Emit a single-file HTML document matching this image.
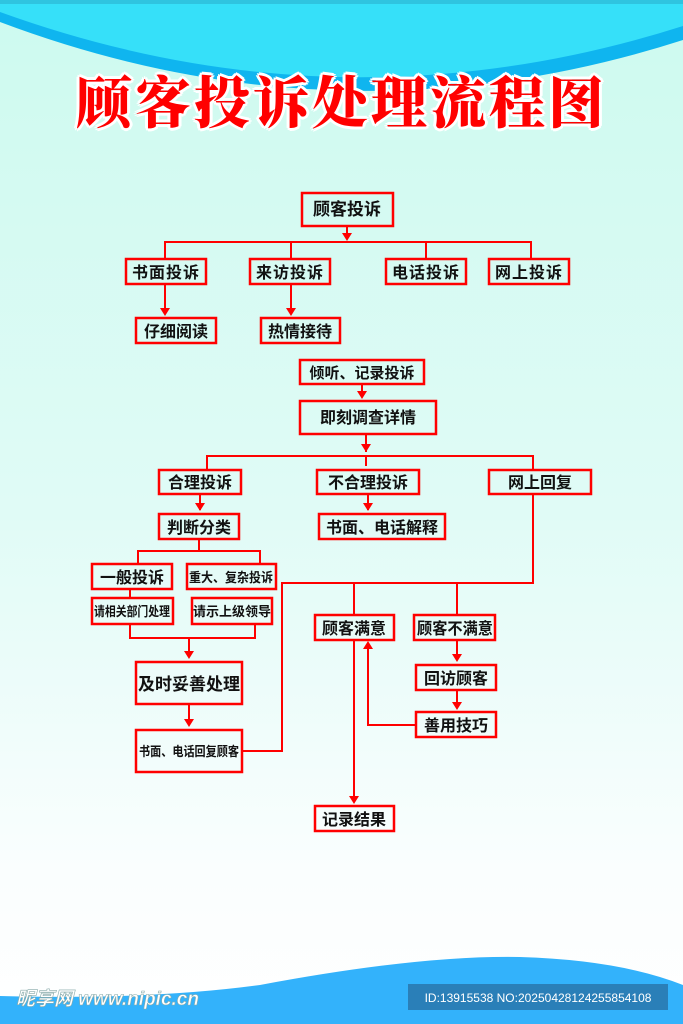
<!DOCTYPE html>
<html><head><meta charset="utf-8"><style>
html,body{margin:0;padding:0}
body{width:683px;height:1024px;position:relative;overflow:hidden;background:linear-gradient(#cdfaef 0%,#e0fbf6 50%,#fafefe 85%,#fff 100%);font-family:"Liberation Sans","Noto Sans CJK SC",sans-serif}
svg{position:absolute;left:0;top:0}
.t{position:absolute;left:0;width:683px;top:60px;text-align:center;font-family:"Noto Serif CJK SC",serif;font-weight:900;font-size:56px;color:#f00;letter-spacing:3px;text-shadow:3px 0 #fff,-3px 0 #fff,0 3px #fff,0 -3px #fff,2px 2px #fff,-2px -2px #fff,2px -2px #fff,-2px 2px #fff}
</style></head><body>
<svg width="683" height="1024" viewBox="0 0 683 1024">
<path d="M0 0 H683 V40 Q340 150 0 22 Z" fill="#0fb5ef"/>
<path d="M0 0 H683 V26 Q340 135 0 12 Z" fill="#36e0f9"/>
<path d="M0 0 H683 V4 H0Z" fill="#2fc4e0"/>
<path d="M0 996 Q150 1000 260 985 Q420 955 520 957 Q620 960 683 985 V1024 H0Z" fill="#33b2fb"/>
<rect x="408" y="984" width="260" height="26" fill="#2a7fb8"/>
<text x="538" y="1002" font-size="12" fill="#fff" text-anchor="middle" font-family="Liberation Sans,sans-serif">ID:13915538 NO:20250428124255854108</text>
<text x="16" y="1005" font-size="19" font-weight="bold" font-style="italic" fill="#fff" stroke="#8aa" stroke-width="0.6" font-family="Liberation Sans,'Noto Sans CJK SC',sans-serif">昵享网 www.nipic.cn</text>
<g stroke="#f00" stroke-width="2" fill="none">
<path d="M347 226V238M165 259V242H531V259M291 242V259M426 242V259"/>
<path d="M165 284V314M291 284V314"/>
<path d="M362 384V397M366 434V452M207 470V456H533V470M366 456V466"/>
<path d="M200 494V510M368 494V510"/>
<path d="M199 539V551M138 564V551H260V564M130 589V598"/>
<path d="M130 624V638H255V624M189 638V657M189 704V725"/>
<path d="M242 751H282V583H533V494M354 583V615M457 583V615"/>
<path d="M457 640V660M457 690V708M416 725H368V645M354 640V800"/>
</g>
<g fill="#f00">
<path d="M342 233h10l-5 8z"/><path d="M160 308h10l-5 8z"/><path d="M286 308h10l-5 8z"/>
<path d="M357 391h10l-5 8z"/><path d="M361 444h10l-5 8z"/>
<path d="M195 503h10l-5 8z"/><path d="M363 503h10l-5 8z"/>
<path d="M184 651h10l-5 8z"/><path d="M184 719h10l-5 8z"/>
<path d="M452 654h10l-5 8z"/><path d="M452 702h10l-5 8z"/>
<path d="M363 649h10l-5 -8z"/><path d="M349 796h10l-5 8z"/>
</g>
<g stroke="#f00" stroke-width="2.5" fill="none">
<rect x="302" y="193" width="91" height="33"/>
<rect x="126" y="259" width="80" height="25"/><rect x="250" y="259" width="80" height="25"/>
<rect x="386" y="259" width="80" height="25"/><rect x="489" y="259" width="80" height="25"/>
<rect x="136" y="318" width="80" height="25"/><rect x="261" y="318" width="79" height="25"/>
<rect x="300" y="360" width="124" height="24"/><rect x="300" y="401" width="136" height="33"/>
<rect x="159" y="470" width="82" height="24"/><rect x="317" y="470" width="102" height="24"/>
<rect x="489" y="470" width="102" height="24"/>
<rect x="159" y="514" width="80" height="25"/><rect x="319" y="514" width="126" height="25"/>
<rect x="92" y="564" width="80" height="25"/><rect x="187" y="564" width="89" height="25"/>
<rect x="92" y="598" width="81" height="26"/><rect x="192" y="598" width="80" height="26"/>
<rect x="136" y="662" width="106" height="42"/><rect x="136" y="730" width="106" height="42"/>
<rect x="315" y="615" width="79" height="25"/><rect x="414" y="615" width="81" height="25"/>
<rect x="416" y="665" width="80" height="25"/><rect x="416" y="712" width="80" height="25"/>
<rect x="315" y="806" width="79" height="25"/>
</g>
<g font-size="16" font-weight="bold" fill="#111" text-anchor="middle" font-family="Liberation Sans,'Noto Sans CJK SC',sans-serif">
<text x="347" y="215" font-size="17">顾客投诉</text>
<text x="166" y="278" letter-spacing="1">书面投诉</text><text x="290" y="278" letter-spacing="1">来访投诉</text>
<text x="426" y="278" letter-spacing="1">电话投诉</text><text x="529" y="278" letter-spacing="1">网上投诉</text>
<text x="176" y="337">仔细阅读</text><text x="300" y="337">热情接待</text>
<text x="362" y="378" font-size="15">倾听、记录投诉</text>
<text x="368" y="423">即刻调查详情</text>
<text x="200" y="488">合理投诉</text><text x="368" y="488">不合理投诉</text><text x="540" y="488">网上回复</text>
<text x="199" y="533">判断分类</text><text x="382" y="533">书面、电话解释</text>
<text x="132" y="583" font-size="16">一般投诉</text>
<text x="231" y="582" font-size="13" textLength="84" lengthAdjust="spacingAndGlyphs">重大、复杂投诉</text>
<text x="132" y="616" font-size="13" textLength="76" lengthAdjust="spacingAndGlyphs">请相关部门处理</text>
<text x="232" y="616" font-size="13">请示上级领导</text>
<text x="189" y="690" font-size="17">及时妥善处理</text>
<text x="189" y="756" font-size="13" textLength="100" lengthAdjust="spacingAndGlyphs">书面、电话回复顾客</text>
<text x="354" y="634">顾客满意</text>
<text x="455" y="634" textLength="76" lengthAdjust="spacingAndGlyphs">顾客不满意</text>
<text x="456" y="684">回访顾客</text><text x="456" y="731">善用技巧</text>
<text x="354" y="825">记录结果</text>
</g>
</svg>
<div class="t">顾客投诉处理流程图</div>
</body></html>
